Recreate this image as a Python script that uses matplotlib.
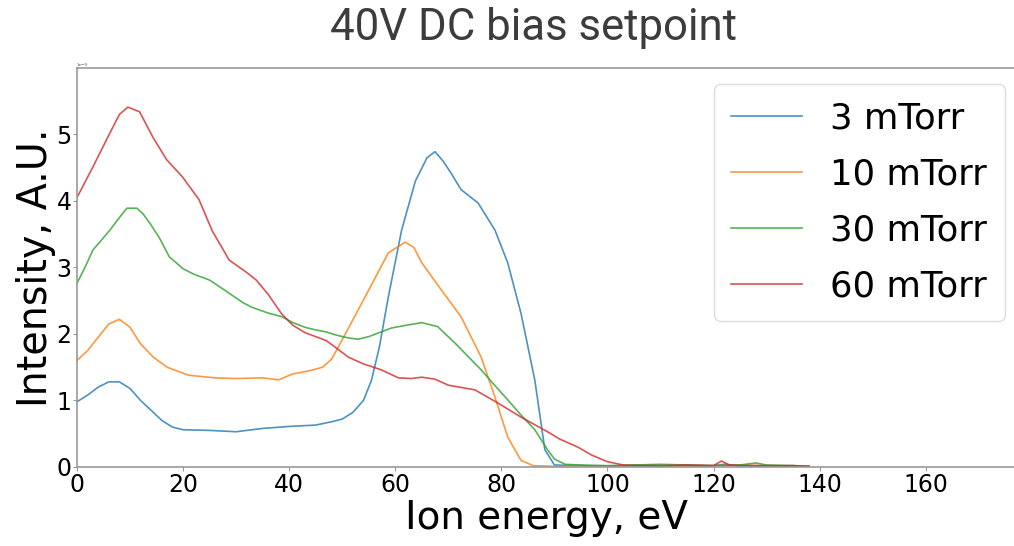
import numpy as np
import matplotlib
matplotlib.use('Agg')
import matplotlib.pyplot as plt

# Dane (energia jonów [eV], intensywność [A.U.])
x_3 = [0, 2, 4, 6, 8, 10, 12, 14, 16, 18, 20, 25, 30, 35, 40, 45, 48, 50, 52, 54,
       55.5, 57, 58.7, 61.2, 63.8, 66, 67.5, 69, 70.5, 72.4, 75.6, 78.8, 81.2, 83.7,
       86.3, 88.2, 90, 95, 100, 105, 110, 115, 120, 122, 125, 130, 135, 138]
y_3 = [0.98, 1.08, 1.2, 1.28, 1.28, 1.18, 1.0, 0.85, 0.7, 0.6, 0.56, 0.55, 0.53, 0.58,
       0.61, 0.63, 0.68, 0.72, 0.82, 1.0, 1.3, 1.8, 2.56, 3.56, 4.3, 4.65, 4.74, 4.6,
       4.42, 4.17, 3.97, 3.56, 3.07, 2.31, 1.31, 0.26, 0.03, 0.02, 0.01, 0.02, 0.01,
       0.02, 0.02, 0.04, 0.02, 0.01, 0.02, 0.01]

x_10 = [0, 2, 4, 6, 8, 10, 12, 14.4, 17, 21, 26, 30, 35, 38, 40.7, 44, 46.3, 48, 51,
        55, 58.7, 61.9, 63.5, 65, 68.7, 72.4, 76.2, 78.8, 81.2, 83.7, 86, 90, 95, 100,
        105, 110, 115, 120, 125, 130, 135, 138]
y_10 = [1.6, 1.75, 1.95, 2.15, 2.22, 2.1, 1.85, 1.65, 1.5, 1.38, 1.34, 1.33, 1.34, 1.31,
        1.4, 1.45, 1.5, 1.62, 2.06, 2.66, 3.22, 3.38, 3.3, 3.07, 2.66, 2.26, 1.65, 1.05,
        0.45, 0.1, 0.02, 0.01, 0.02, 0.01, 0.03, 0.02, 0.02, 0.02, 0.03, 0.02, 0.01, 0.01]

x_30 = [0, 1.5, 3, 6.2, 8, 9.4, 11.3, 12.5, 13.7, 15.5, 17.4, 20, 22, 25, 28, 31.3, 33,
        36.2, 38.6, 40.7, 43, 45, 47, 49, 51.2, 53, 55, 57, 59.3, 62, 65, 68, 71.3, 73.5,
        76.2, 78.5, 81.2, 83.5, 86.3, 88.7, 90, 92, 95, 100, 105, 110, 115, 120, 125,
        128, 130, 135, 138]
y_30 = [2.76, 3.0, 3.26, 3.56, 3.75, 3.89, 3.89, 3.8, 3.67, 3.45, 3.16, 2.98, 2.9, 2.81,
        2.65, 2.47, 2.4, 2.31, 2.26, 2.17, 2.1, 2.06, 2.03, 1.98, 1.94, 1.92, 1.96, 2.02,
        2.09, 2.13, 2.17, 2.11, 1.86, 1.68, 1.46, 1.25, 1.01, 0.8, 0.56, 0.26, 0.12, 0.04,
        0.03, 0.02, 0.03, 0.04, 0.03, 0.02, 0.03, 0.06, 0.03, 0.02, 0.01]

x_60 = [0, 3, 6.2, 8, 9.6, 11.8, 14.3, 16.9, 19.9, 23, 25.5, 28.7, 31.9, 33.8, 36, 38.6,
        40.7, 43, 45, 47, 51.2, 54, 57.4, 60.6, 63, 65, 67.5, 70, 75, 79.4, 83.7, 88.7,
        91, 94.4, 97, 100, 103, 105, 110, 115, 120, 121.5, 123, 125, 130, 135, 138]
y_60 = [4.05, 4.51, 5.02, 5.3, 5.41, 5.34, 4.96, 4.62, 4.36, 4.02, 3.55, 3.11, 2.93, 2.81,
        2.6, 2.3, 2.13, 2.02, 1.96, 1.9, 1.65, 1.55, 1.46, 1.34, 1.33, 1.35, 1.32, 1.23,
        1.16, 0.96, 0.75, 0.53, 0.42, 0.3, 0.18, 0.08, 0.03, 0.02, 0.02, 0.03, 0.02, 0.09,
        0.03, 0.02, 0.02, 0.02, 0.01]

etykiety = ['3 mTorr', '10 mTorr', '30 mTorr', '60 mTorr']
serie = [(x_3, y_3), (x_10, y_10), (x_30, y_30), (x_60, y_60)]
kolory = ['#1f77b4', '#ff7f0e', '#2ca02c', '#d62728']

fig = plt.figure(figsize=(10.14, 5.46), dpi=100)
ax = fig.add_axes([0.0759, 0.1447, 0.926, 0.731])

for (xs, ys), lab, kol in zip(serie, etykiety, kolory):
    ax.plot(xs, ys, color=kol, lw=1.2, alpha=0.8, label=lab)

ax.set_xlim(0, 177)
ax.set_ylim(0, 6.0)
ax.set_xticks([0, 20, 40, 60, 80, 100, 120, 140, 160])
ax.set_yticks([0, 1, 2, 3, 4, 5])
ax.tick_params(labelsize=17, length=3, color='#999999', pad=1)
for s in ax.spines.values():
    s.set_color('#999999')
    s.set_linewidth(1.2)

ax.set_xlabel('Ion energy, eV', fontsize=28, labelpad=2)
ax.set_ylabel('Intensity, A.U.', fontsize=28.5, labelpad=0)

ax.text(0.0, 1.004, '1e\u22129', transform=ax.transAxes, fontsize=3, color='#555555')

ax.legend(loc='upper right', bbox_to_anchor=(1005 / 1014, 1 - 84 / 546),
          bbox_transform=fig.transFigure, borderaxespad=0, fontsize=25.5,
          framealpha=1, edgecolor='#dddddd', labelspacing=0.62, borderpad=0.5,
          handlelength=2.0)

fig.text(533 / 1014, 1 - 28 / 546, '40V DC bias setpoint', fontsize=31.5,
         family=['Roboto', 'DejaVu Sans'], color='#3c3c3c', ha='center', va='center')

fig.savefig('out.png', dpi=100)
